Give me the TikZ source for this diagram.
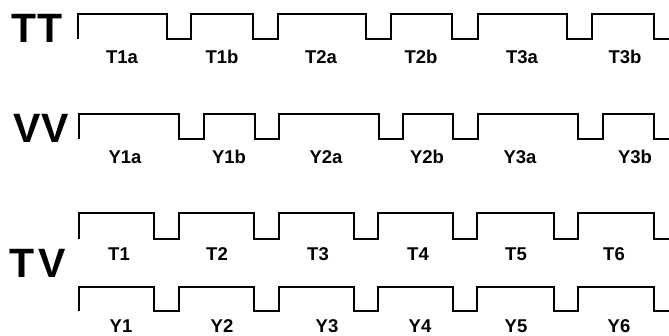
\documentclass[tikz,border=0pt]{standalone}
\usepackage{fontspec}
\setmainfont{Liberation Sans}
\usepackage{tikz}
\usetikzlibrary{positioning}

\tikzset{
  signal/.style={line width=1.3pt, line join=miter},
  seglabel/.style={font=\fontsize{18.5}{18.5}\selectfont\bfseries, inner sep=0pt},
  rowlabel/.style={font=\fontsize{41}{41}\selectfont\bfseries, inner sep=0pt}
}

\begin{document}
\begin{tikzpicture}[x=1pt, y=-1pt]
  \useasboundingbox (0,0) rectangle (669,335);
  % square waves: start x / high y / low y / dips
  \foreach \xs/\hi/\lo/\dips in {78/14/39/{167/191,253/278,366/391,452/478,567/592},
                                 79/114/139/{179/204,255/279,379/403,453/478,578/603},
                                 79/213/239/{154/179,254/279,354/378,453/477,554/578},
                                 79/287/311/{154/179,254/279,354/378,453/477,554/578}} {
    \draw[signal] (\xs,\lo) -- (\xs,\hi)
      foreach \f/\r in \dips { -- (\f,\hi) -- (\f,\lo) -- (\r,\lo) -- (\r,\hi) }
      -- (654,\hi) -- (654,\lo) -- (669,\lo);
  }
  % row names
  \node[rowlabel] (tt) at (37,28) {TT};
  \node[rowlabel] (vv) at (41,128) {VV};
  \node[rowlabel] (tv) at (38,263) {T\kern4pt V};
  % segment labels
  \foreach \n/\x in {T1a/122,T1b/222,T2a/321,T2b/421,T3a/522,T3b/625}
    \node[seglabel] (\n) at (\x,57) {\n};
  \foreach \n/\x in {Y1a/125,Y1b/229,Y2a/326,Y2b/427,Y3a/520,Y3b/635}
    \node[seglabel] (\n) at (\x,157) {\n};
  \foreach \n/\x in {T1/119,T2/217,T3/318,T4/418,T5/516,T6/614}
    \node[seglabel] (\n) at (\x,254) {\n};
  \foreach \n/\x in {Y1/121,Y2/222,Y3/327,Y4/420,Y5/516,Y6/619}
    \node[seglabel] (\n) at (\x,326) {\n};
\end{tikzpicture}
\end{document}
